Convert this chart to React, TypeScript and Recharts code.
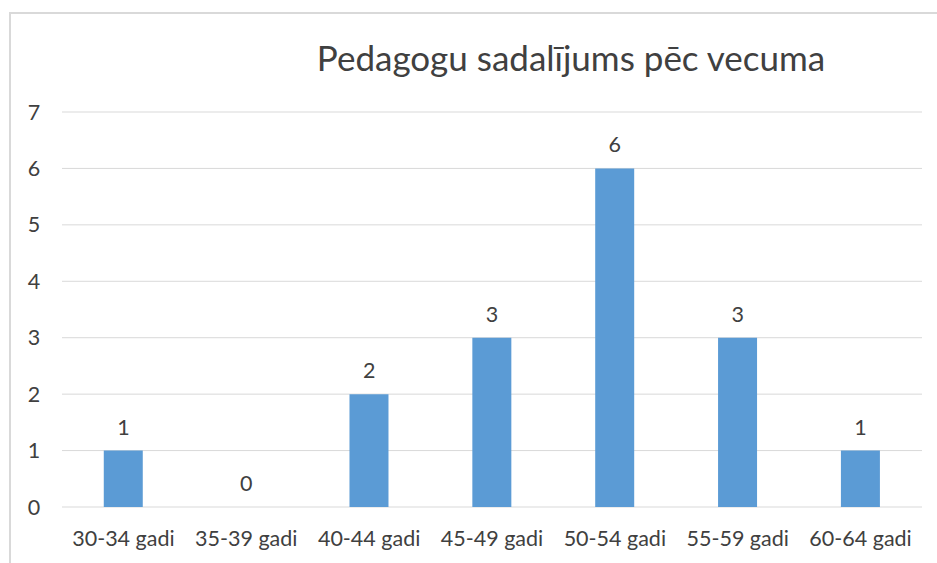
import React from "react";
import { ComposedChart, Bar, Line, XAxis, YAxis, CartesianGrid, LabelList } from "recharts";

const categories = ["30-34 gadi", "35-39 gadi", "40-44 gadi", "45-49 gadi", "50-54 gadi", "55-59 gadi", "60-64 gadi"];
const counts = [1, 0, 2, 3, 6, 3, 1];
const yTicks = [0, 1, 2, 3, 4, 5, 6, 7];
const title = "Pedagogu sadalījums pēc vecuma";

const data = categories.map((c, i) => ({ name: c, value: counts[i] }));

const FONT = "Lato, 'Open Sans', sans-serif";
const TEXT = "#404040";
const FS = 21.5;

export default function App() {
  return (
    <div style={{ position: "absolute", left: 0, top: 0, width: 937, height: 563, overflow: "hidden", background: "#fff", fontFamily: FONT }}>
      <div style={{ position: "absolute", left: 9, top: 12, width: 960, height: 600, border: "2px solid #d9d9d9", boxSizing: "border-box" }} />
      <div style={{ position: "absolute", left: 0, top: 33, width: 1142, textAlign: "center", fontSize: 35, color: "#404040", lineHeight: "48px", whiteSpace: "nowrap" }}>
        {title}
      </div>
      <div style={{ position: "absolute", left: 0, top: 0 }}>
        <ComposedChart width={937} height={563} data={data} margin={{ top: 112, right: 15, bottom: 0, left: 0 }} barCategoryGap="34%">
          <CartesianGrid vertical={false} stroke="#d9d9d9" strokeWidth={1} />
          <XAxis dataKey="name" axisLine={false} tickLine={false} height={56} interval={0}
            tick={{ fill: TEXT, fontSize: FS, fontFamily: FONT }} tickMargin={18} />
          <YAxis domain={[0, 7]} ticks={yTicks} axisLine={false} tickLine={false} width={62}
            tick={{ fill: TEXT, fontSize: FS, fontFamily: FONT, textAnchor: "middle" }} dx={-20} />
          <Bar dataKey="value" fill="#5b9bd5" isAnimationActive={false} />
          <Line dataKey="value" stroke="none" dot={false} activeDot={false} isAnimationActive={false}>
            <LabelList dataKey="value" position="top" offset={16} fill={TEXT} fontSize={FS} fontFamily={FONT} />
          </Line>
        </ComposedChart>
      </div>
    </div>
  );
}
